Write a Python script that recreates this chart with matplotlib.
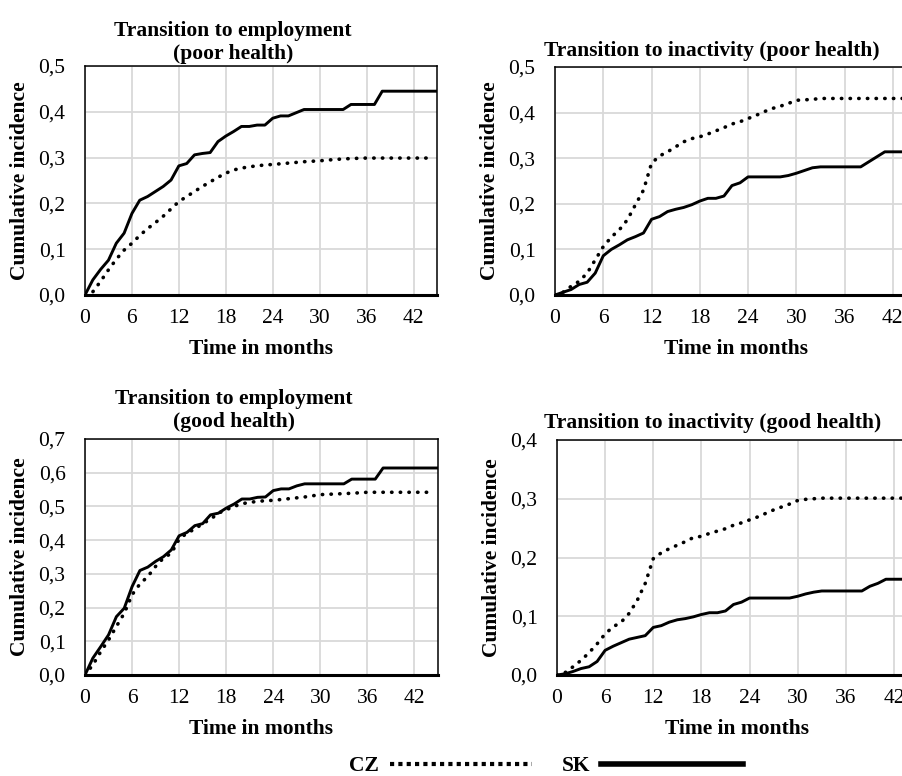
import matplotlib
matplotlib.use("Agg")
import matplotlib.pyplot as plt
from matplotlib.lines import Line2D
from matplotlib.ticker import FuncFormatter

plt.rcParams['font.family'] = ['Liberation Serif', 'DejaVu Serif']

# ---- data (months, cumulative incidence) ----
months_sk = list(range(0, 46))

emp_poor_sk = [0, .033, .056, .076, .113, .135, .178, .207, .215, .226, .237, .251,
               .282, .287, .306, .309, .311, .335, .347, .357, .368, .368, .371, .371,
               .386, .391, .391, .398, .405, .405, .405, .405, .405, .405, .416, .416,
               .416, .416, .445, .445, .445, .445, .445, .445, .445, .445]
emp_poor_cz_x = [0, 1, 2, 3, 4, 5, 6, 7, 8, 9, 10, 11, 12, 13, 14, 15, 16, 17, 18,
                 19, 20, 21, 22, 23, 24, 26, 28, 30, 32, 34, 36, 40, 44]
emp_poor_cz = [0, .007, .03, .055, .078, .098, .113, .13, .145, .158, .172, .188,
               .204, .215, .226, .237, .247, .257, .266, .273, .277, .28, .282, .284,
               .285, .288, .291, .293, .296, .298, .299, .299, .299]

ina_poor_cz_x = [0, 1, 2, 3, 4, 5, 6, 7, 8, 9, 10, 11, 12, 13, 14, 15, 16, 17, 18,
                 19, 20, 21, 22, 23, 24, 25, 26, 27, 28, 29, 30, 31, 32, 33, 45]
ina_poor_cz = [0, .006, .019, .03, .048, .077, .106, .127, .143, .165, .198, .23,
               .289, .305, .314, .325, .336, .343, .347, .353, .36, .367, .375, .38,
               .387, .394, .402, .409, .414, .42, .427, .428, .429, .431, .431]
ina_poor_sk = [0, .006, .012, .023, .028, .048, .086, .1, .11, .121, .128, .136,
               .166, .172, .183, .188, .192, .198, .206, .212, .212, .217, .24, .246,
               .259, .259, .259, .259, .259, .262, .267, .273, .279, .281, .281, .281,
               .281, .281, .281, .292, .303, .314, .314, .314, .314, .314]

emp_good_sk = [0, .05, .084, .119, .173, .198, .262, .31, .32, .337, .351, .371,
               .413, .423, .443, .449, .475, .48, .495, .507, .522, .522, .527, .528,
               .547, .552, .552, .561, .567, .567, .567, .567, .567, .567, .581, .581,
               .581, .581, .614, .614, .614, .614, .614, .614, .614, .614]
emp_good_cz_x = [0, 1, 2, 3, 4, 5, 6, 7, 8, 9, 10, 11, 12, 13, 14, 15, 16, 17, 18,
                 19, 20, 21, 22, 23, 24, 26, 28, 30, 32, 34, 36, 40, 44]
emp_good_cz = [0, .03, .069, .104, .144, .183, .238, .27, .292, .322, .347, .361,
               .403, .421, .433, .449, .462, .48, .49, .5, .508, .512, .515, .517,
               .518, .523, .528, .535, .537, .539, .542, .542, .542]

ina_good_cz_x = ina_poor_cz_x
ina_good_cz = [0, .004, .014, .025, .038, .053, .07, .082, .09, .105, .127, .156,
               .198, .208, .215, .221, .227, .234, .236, .241, .245, .249, .255, .259,
               .264, .269, .275, .281, .286, .291, .297, .299, .3, .301, .301]
ina_good_sk = [0, .002, .006, .011, .014, .023, .042, .049, .055, .061, .064, .067,
               .081, .084, .09, .094, .096, .099, .103, .106, .106, .109, .12, .124,
               .131, .131, .131, .131, .131, .131, .134, .138, .141, .143, .143, .143,
               .143, .143, .143, .151, .156, .163, .163, .163, .163, .163]

x_ticks = [0, 6, 12, 18, 24, 30, 36, 42]

W, H = 903, 776
fig = plt.figure(figsize=(W / 100, H / 100), dpi=100)


def px_axes(left, top, right, bottom):
    return fig.add_axes([left / W, 1 - bottom / H, (right - left) / W, (bottom - top) / H])


FS = 15.5
comma = FuncFormatter(lambda v, p: f"{v:.1f}".replace('.', ','))
dot_style = dict(color='black', lw=2.6, linestyle=(0, (0.1, 2.3)),
                 dash_capstyle='round', solid_capstyle='round')
solid_style = dict(color='black', lw=2.1, solid_joinstyle='round')

panels = [
    # (box px, title, title x, title pad, ymax, cz x, cz y, sk y)
    ((85, 66, 437, 295), "Transition to employment\n(poor health)", 0.42, 5,
     0.5, emp_poor_cz_x, emp_poor_cz, emp_poor_sk),
    ((555, 67, 917, 295), "Transition to inactivity (poor health)", 0.434, 8,
     0.5, ina_poor_cz_x, ina_poor_cz, ina_poor_sk),
    ((85, 439, 438, 675), "Transition to employment\n(good health)", 0.422, 9,
     0.7, emp_good_cz_x, emp_good_cz, emp_good_sk),
    ((557, 440, 918, 675), "Transition to inactivity (good health)", 0.432, 9,
     0.4, ina_good_cz_x, ina_good_cz, ina_good_sk),
]

for box, title, tx, tpad, ymax, czx, czy, sky in panels:
    ax = px_axes(*box)
    ax.plot(czx, czy, **dot_style, zorder=3)
    ax.plot(months_sk, sky, **solid_style, zorder=4)
    ax.set_xlim(0, 45)
    ax.set_ylim(0, ymax)
    ax.set_xticks(x_ticks)
    ax.set_yticks([i / 10 for i in range(int(round(ymax * 10)) + 1)])
    ax.yaxis.set_major_formatter(comma)
    ax.grid(True, color='#d9d9d9', lw=1.3, zorder=0)
    ax.set_axisbelow(True)
    ax.tick_params(axis='both', length=0, labelsize=FS)
    ax.tick_params(axis='y', pad=14)
    ax.tick_params(axis='x', pad=10)
    for s in ['top', 'right', 'left']:
        ax.spines[s].set_linewidth(1.1)
    ax.spines['bottom'].set_linewidth(2.2)
    ax.set_xlabel("Time in months", fontsize=FS, fontweight='bold', labelpad=8)
    ax.set_ylabel("Cumulative incidence", fontsize=FS, fontweight='bold', labelpad=6)
    ax.set_title(title, fontsize=FS, fontweight='bold', x=tx, pad=tpad, linespacing=1.2)

handles = [
    Line2D([], [], color='black', lw=3.0, linestyle=(0, (1, 1))),
    Line2D([], [], color='black', lw=4.0),
]
fig.legend(handles, ['CZ', 'SK'], loc='center', bbox_to_anchor=(546 / W, 1 - 766 / H),
           ncol=2, markerfirst=False, frameon=False, handlelength=6.6,
           columnspacing=1.4, handletextpad=0.5, borderpad=0, borderaxespad=0,
           prop=dict(size=FS, weight='bold'))

fig.savefig("out.png", dpi=100)
